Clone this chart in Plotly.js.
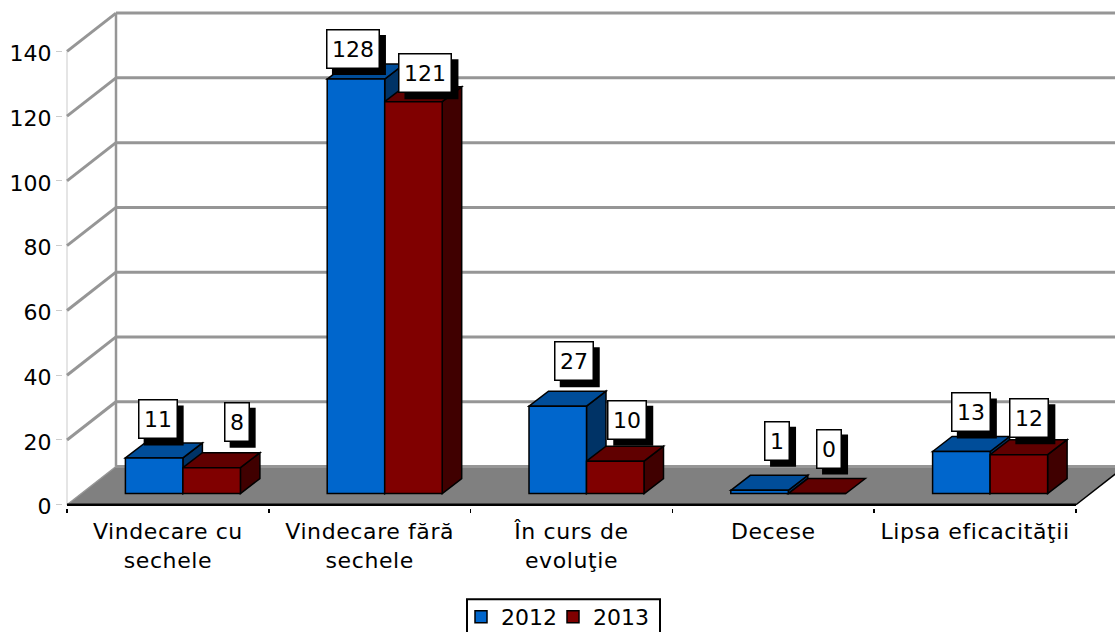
<!DOCTYPE html>
<html>
<head>
<meta charset="utf-8">
<script src="https://cdn.plot.ly/plotly-3.0.1.min.js"></script>
<style>html,body{margin:0;padding:0;background:#fff}#chart{width:1115px;height:632px}
#chart .xtick text{letter-spacing:.6px}
#chart .legend .scrollbox{clip-path:none !important}
</style>
</head>
<body>
<div id="chart"></div>
<script>
// ---- data ----
const categories = ['Vindecare cu<br>sechele', 'Vindecare fără<br>sechele', 'În curs de<br>evoluţie', 'Decese', 'Lipsa eficacităţii'];
const values2012 = [11, 128, 27, 1, 13];
const values2013 = [8, 121, 10, 0, 12];
const yTicks = [0, 20, 40, 60, 80, 100, 120, 140];

// ---- scale (axis units per pixel) ----
const Y_SCALE = 3.24, PLOT_H = 505 + Y_SCALE;
const PX_X = 1 / 201.8, PX_Y = 1 / Y_SCALE;
const FONT = 'DejaVu Sans, Verdana, sans-serif';
const WALL_DX = 49 * PX_X, WALL_DY = 38.3 * PX_Y;   // depth of the chart box
const BAR_DX = 19.5 * PX_X, BAR_DY = 15 * PX_Y;     // depth of a bar
const BAR_W = 57.5 * PX_X;
const BAR_BASE = 11.2 * PX_Y;                        // bars stand mid-floor
const BAR_SHIFT = 15 * PX_X;
const XMAX = 1048 * PX_X, XMIN = -4 * PX_X;

const C = {
  front: ['#0066cc', '#800000'],
  top: ['#004d99', '#600000'],
  side: ['#003366', '#400000'],
  grid: '#969696', floor: '#808080'
};

const centers = categories.map((_, i) => i + 0.5);
const series = [
  {name: '2012', vals: values2012, k: 0, off: -BAR_W},
  {name: '2013', vals: values2013, k: 1, off: 0}
];

function poly(pts, fill, lineColor, lineW) {
  const path = pts.map((p, i) => (i ? 'L' : 'M') + p[0] + ',' + p[1]).join(' ') + ' Z';
  return {type: 'path', path, xref: 'x', yref: 'y', layer: 'below', fillcolor: fill,
          line: {color: lineColor || fill, width: lineW === undefined ? 1.5 : lineW}};
}
function seg(x0, y0, x1, y1, color, w) {
  return {type: 'line', x0, y0, x1, y1, xref: 'x', yref: 'y', layer: 'below', line: {color, width: w}};
}

const shapes = [];
// left wall edge
shapes.push(seg(0, 0, 0, 140, '#dddddd', 1.5));
// floor
shapes.push(poly([[0, 0], [WALL_DX, WALL_DY], [5 + WALL_DX, WALL_DY], [5, 0]], C.floor, C.floor, 0));
// back-wall + side-wall gridlines
yTicks.forEach(v => {
  if (v > 0) shapes.push(seg(0, v, WALL_DX, v + WALL_DY, C.grid, 3));
  shapes.push(seg(WALL_DX, v + WALL_DY, XMAX, v + WALL_DY, C.grid, 3));
});
shapes.push(seg(0, 0, WALL_DX, WALL_DY, C.grid, 1.5));
shapes.push(seg(WALL_DX, WALL_DY, WALL_DX, 140 + WALL_DY, C.grid, 2.5));
// front floor edge
shapes.push(seg(0, 0, 5, 0, '#000000', 2.5));
shapes.push(seg(5, 0, 5 + WALL_DX, WALL_DY, '#000000', 1.5));

// bar tops and sides
series.forEach(s => {
  s.vals.forEach((v, i) => {
    const x0 = centers[i] + BAR_SHIFT + s.off, x1 = x0 + BAR_W;
    const b = BAR_BASE, t = BAR_BASE + v;
    if (v > 0) shapes.push(poly([[x1, b], [x1 + BAR_DX, b + BAR_DY], [x1 + BAR_DX, t + BAR_DY], [x1, t]], C.side[s.k], '#000'));
    shapes.push(poly([[x0, t], [x0 + BAR_DX, t + BAR_DY], [x1 + BAR_DX, t + BAR_DY], [x1, t]], C.top[s.k], '#000'));
  });
});

// legend frame (runs off the bottom of the picture, as in the reference)
const pxToPaperX = px => (px - 63) / 1052;
const pxToPaperY = py => (PLOT_H - py) / PLOT_H;
shapes.push({type: 'rect', xref: 'paper', yref: 'paper', layer: 'above',
  x0: pxToPaperX(467), x1: pxToPaperX(660), y0: pxToPaperY(599.5), y1: pxToPaperY(645),
  fillcolor: '#fff', line: {color: '#000', width: 2}});

// front faces
const traces = series.map(s => ({
  type: 'bar', name: s.name,
  x: centers.map(c => c + BAR_SHIFT),
  y: s.vals,
  base: BAR_BASE,
  width: BAR_W, offset: s.off,
  marker: {color: C.front[s.k], line: {color: '#000', width: 1.5}},
  hoverinfo: 'skip'
}));

// value labels: pixel offset from the bar's front-top centre
const labelShift = [
  [[3.5, 38.5], [-3, 30], [16, 45], [17.5, 49.5], [9.5, 39]],
  [[25, 46], [12, 28.5], [12, 41.5], [12, 45], [10.5, 36.5]]
];
const annotations = [];
series.forEach(s => {
  s.vals.forEach((v, i) => {
    const x = centers[i] + BAR_SHIFT + s.off + BAR_W / 2, y = BAR_BASE + v;
    const [sx, sy] = labelShift[s.k][i];
    const w = 12 + String(v).length * 14, h = 40;
    shapes.push({type: 'rect', layer: 'above', xref: 'x', yref: 'y', xsizemode: 'pixel', ysizemode: 'pixel',
      xanchor: x, yanchor: y,
      x0: sx - w / 2 + 6, x1: sx + w / 2 + 6, y0: sy - h / 2 - 6, y1: sy + h / 2 - 6,
      fillcolor: '#000', line: {width: 0}});
    annotations.push({x, y, xref: 'x', yref: 'y', text: String(v), showarrow: false,
      xshift: sx, yshift: sy, xanchor: 'center', yanchor: 'middle',
      width: w - 3, height: h - 3, borderpad: 0, align: 'center', valign: 'middle',
      bgcolor: '#fff', bordercolor: '#000', borderwidth: 1.5,
      font: {family: FONT, size: 22, color: '#000'}});
  });
});

const layout = {
  width: 1115, height: 632,
  margin: {l: 63, r: 0, t: 0, b: 632 - PLOT_H, pad: 0},
  paper_bgcolor: '#fff', plot_bgcolor: '#fff',
  font: {family: FONT, size: 22, color: '#000'},
  barmode: 'overlay',
  xaxis: {
    type: 'linear', range: [XMIN, XMAX], showgrid: false, zeroline: false, showline: false,
    tickmode: 'array', tickvals: centers, ticktext: categories,
    ticks: 'outside', ticklen: 4, tickcolor: 'rgba(0,0,0,0)', tickwidth: 1,
    tickangle: 0, tickfont: {family: FONT, size: 22, color: '#000'},
    minor: {tickmode: 'array', tickvals: [0, 1, 2, 3, 4, 5], ticks: 'outside', ticklen: 4, tickcolor: '#000', tickwidth: 1.5, showgrid: false},
    fixedrange: true
  },
  yaxis: {
    range: [-1, 505 / Y_SCALE], showgrid: false, zeroline: false, showline: false,
    tickmode: 'array', tickvals: yTicks, ticktext: yTicks.map(String),
    ticks: 'outside', ticklen: 6, tickcolor: '#cccccc', tickwidth: 1, ticklabelshift: 2,
    tickfont: {family: FONT, size: 22, color: '#000'}, fixedrange: true
  },
  legend: {
    orientation: 'h', xref: 'paper', x: pxToPaperX(461), xanchor: 'left',
    yref: 'container', y: 1 - 596 / 632, yanchor: 'top',
    borderwidth: 0, bgcolor: 'rgba(0,0,0,0)',
    entrywidth: 47, entrywidthmode: 'pixels',
    font: {family: FONT, size: 22, color: '#000'}, traceorder: 'normal'
  },
  showlegend: true,
  shapes, annotations
};
Plotly.newPlot('chart', traces, layout, {displayModeBar: false, staticPlot: true});
</script>
</body>
</html>
